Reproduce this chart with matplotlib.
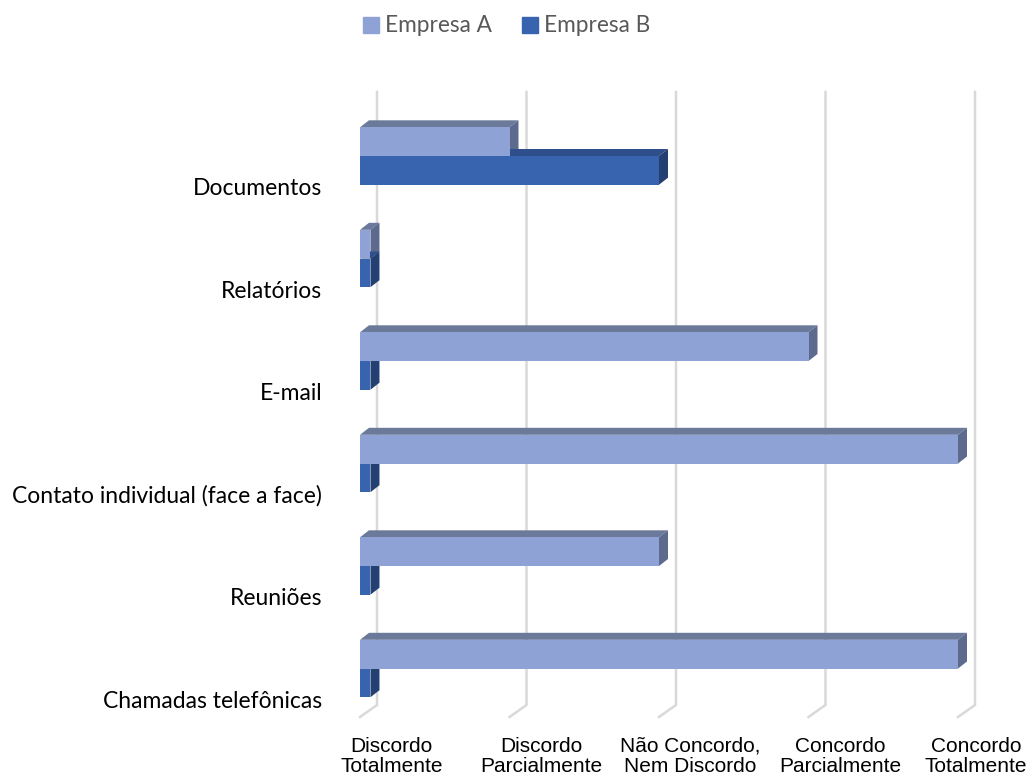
import matplotlib.pyplot as plt
from matplotlib.patches import Polygon
from matplotlib.lines import Line2D

# categories from top to bottom
categories = ['Documentos', 'Relatórios', 'E-mail', 'Contato individual (face a face)',
              'Reuniões', 'Chamadas telefônicas']
empresa_a = [1.0, 0.07, 3.0, 4.0, 2.0, 4.0]
empresa_b = [2.0, 0.07, 0.07, 0.07, 0.07, 0.07]
scale_labels = ['Discordo\nTotalmente', 'Discordo\nParcialmente', 'Não Concordo,\nNem Discordo',
                'Concordo\nParcialmente', 'Concordo\nTotalmente']
scale_values = [0, 1, 2, 3, 4]

# colours: front, top, side
col_a = ('#8fa2d6', '#6b7a9b', '#5b6a8d')
col_b = ('#3863ae', '#2e4f8b', '#243f72')

fig = plt.figure(figsize=(10.33, 7.78), dpi=100)
ax = fig.add_axes([350 / 1033, 1 - 720 / 778, 640 / 1033, 635 / 778])

xlim = (-10 / 149.5, 630 / 149.5)
ylim = (564 / 102.5, -71 / 102.5)
ax.set_xlim(*xlim)
ax.set_ylim(*ylim)

# 3d offsets (data units)
bdx, bdy = 9 / 149.5, -7 / 102.5      # bar depth
wdx, wdy = 17 / 149.5, -12 / 102.5    # back wall offset
grid_top = -64 / 102.5
grid_bot = 549 / 102.5

# gridlines on back wall with floor diagonal
for v in scale_values:
    ax.plot([v + wdx, v + wdx, v], [grid_top, grid_bot, grid_bot - wdy],
            color='#d9d9d9', lw=1.8, zorder=1, solid_joinstyle='miter')

h = 0.28


def faces(val, top, cols):
    bot = top + h
    ax.add_patch(Polygon([(0, top), (bdx, top + bdy), (val + bdx, top + bdy), (val, top)],
                         closed=True, facecolor=cols[1], edgecolor='none', zorder=2))
    ax.add_patch(Polygon([(val, top), (val + bdx, top + bdy), (val + bdx, bot + bdy), (val, bot)],
                         closed=True, facecolor=cols[2], edgecolor='none', zorder=2))


for i in range(len(categories)):
    faces(empresa_a[i], i - h, col_a)
    faces(empresa_b[i], i, col_b)

ys = list(range(len(categories)))
ax.barh([y - h / 2 for y in ys], empresa_a, height=h, color=col_a[0], zorder=3)
ax.barh([y + h / 2 for y in ys], empresa_b, height=h, color=col_b[0], zorder=3)

ax.set_yticks([y + 0.30 for y in ys])
ax.set_yticklabels(categories, fontsize=16.5, family='Lato', color='#000000')
# last label pulled in so it stays inside the figure
ax.set_xticks([min(v + 0.21, 4.12) for v in scale_values])
ax.set_xticklabels(scale_labels, fontsize=15, family='Liberation Sans', color='#000000',
                   linespacing=1.1)
ax.tick_params(axis='both', length=0)
ax.tick_params(axis='x', pad=12)
ax.tick_params(axis='y', pad=20)
for s in ax.spines.values():
    s.set_visible(False)

handles = [Line2D([], [], marker='s', ls='none', markersize=11, color=col_a[0]),
           Line2D([], [], marker='s', ls='none', markersize=11, color=col_b[0])]
fig.legend(handles, ['Empresa A', 'Empresa B'], loc='center', bbox_to_anchor=(505 / 1033, 1 - 26 / 778),
           ncol=2, frameon=False, prop={'family': 'Lato', 'size': 16.3}, labelcolor='#595959',
           handletextpad=0.1, columnspacing=1.2, handlelength=1.0)

fig.savefig('out.png', dpi=100)
